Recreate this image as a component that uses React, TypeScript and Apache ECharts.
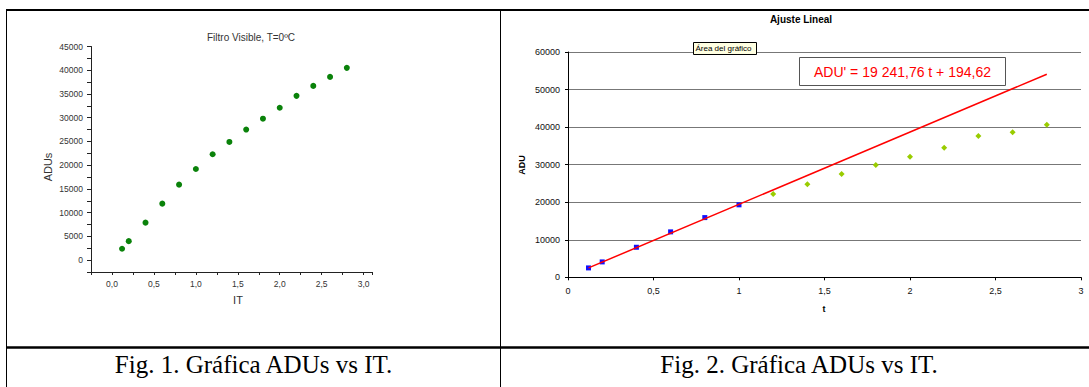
import React, { useEffect, useRef } from "react";
import * as echarts from "echarts";

// Fig. 1 (Origin plot) data
const itValues = [0.12, 0.2, 0.4, 0.6, 0.8, 1.0, 1.2, 1.4, 1.6, 1.8, 2.0, 2.2, 2.4, 2.6, 2.8];
const aduFig1 = [2400, 4000, 7900, 11900, 15900, 19200, 22300, 24900, 27500, 29800, 32100, 34600, 36700, 38600, 40500];

// Fig. 2 (Excel plot) data: first six points were used in the fit
const fitT = [0.12, 0.2, 0.4, 0.6, 0.8, 1.0];
const fitADU = [2500, 4100, 8000, 12100, 15900, 19300];
const restT = [1.2, 1.4, 1.6, 1.8, 2.0, 2.2, 2.4, 2.6, 2.8];
const restADU = [22200, 24800, 27500, 29900, 32100, 34500, 37600, 38600, 40600];

// Linear fit shown in the label
const fitSlope = 19241.76;
const fitIntercept = 194.62;
const trendT = [0.12, 2.8];

const fig1Title = "Filtro Visible, T=0ºC";
const fig2Title = "Ajuste Lineal";
const fitLabel = "ADU' = 19 241,76 t + 194,62";
const caption1 = "Fig. 1. Gráfica ADUs vs IT.";
const caption2 = "Fig. 2. Gráfica ADUs vs IT.";

const SANS = '"Liberation Sans", Arial, sans-serif';
const SERIF = '"Liberation Serif", "Times New Roman", serif';

export default function App() {
  const ref = useRef<HTMLDivElement>(null);

  useEffect(() => {
    if (!ref.current) return;
    const chart = echarts.init(ref.current, undefined, { renderer: "svg" });

    const fig1Data = itValues.map((t, i) => [t, aduFig1[i]]);
    const fitData = fitT.map((t, i) => [t, fitADU[i]]);
    const restData = restT.map((t, i) => [t, restADU[i]]);
    const trendData = trendT.map((t) => [t, fitSlope * t + fitIntercept]);

    const originLabel = { color: "#333", fontSize: 8.5, fontFamily: SANS };
    const excelLabel = { color: "#111", fontSize: 9, fontFamily: SANS };

    chart.setOption({
      animation: false,
      backgroundColor: "#fff",
      grid: [
        { left: 91, top: 46.5, width: 281, height: 225.5, outerBoundsMode: "none" },
        { left: 568, top: 52, width: 513, height: 225.3, outerBoundsMode: "none" },
      ],
      xAxis: [
        {
          type: "value",
          gridIndex: 0,
          min: -0.25,
          max: 3.1,
          interval: 0.25,
          axisLine: { onZero: false, lineStyle: { color: "#222", width: 1 } },
          axisTick: { show: true, inside: false, length: 3, lineStyle: { color: "#222" } },
          splitLine: { show: false },
          axisLabel: {
            ...originLabel,
            margin: 7,
            formatter: (v: number) => {
              const r = Math.round(v * 100) / 100;
              if (r < 0 || Math.abs(r * 2 - Math.round(r * 2)) > 1e-6) return "";
              return r.toFixed(1).replace(".", ",");
            },
          },
        },
        {
          type: "value",
          gridIndex: 1,
          min: 0,
          max: 3,
          interval: 0.5,
          axisLine: { onZero: false, lineStyle: { color: "#000", width: 1 } },
          axisTick: { show: true, inside: false, length: 3, lineStyle: { color: "#000" } },
          splitLine: { show: false },
          axisLabel: {
            ...excelLabel,
            margin: 9,
            formatter: (v: number) => String(v).replace(".", ","),
          },
        },
      ],
      yAxis: [
        {
          type: "value",
          gridIndex: 0,
          min: -2500,
          max: 45000,
          interval: 2500,
          axisLine: { show: true, onZero: false, lineStyle: { color: "#222", width: 1 } },
          axisTick: { show: true, inside: false, length: 4, lineStyle: { color: "#222" } },
          splitLine: { show: false },
          axisLabel: {
            ...originLabel,
            margin: 8,
            formatter: (v: number) => (v < 0 || v % 5000 !== 0 ? "" : String(v)),
          },
        },
        {
          type: "value",
          gridIndex: 1,
          min: 0,
          max: 60000,
          interval: 10000,
          axisLine: { show: true, onZero: false, lineStyle: { color: "#000", width: 1 } },
          axisTick: { show: true, inside: false, length: 3, lineStyle: { color: "#000" } },
          splitLine: { show: true, lineStyle: { color: "#777", width: 1 } },
          axisLabel: { ...excelLabel, margin: 8, formatter: (v: number) => String(v) },
        },
      ],
      series: [
        {
          type: "scatter",
          xAxisIndex: 0,
          yAxisIndex: 0,
          data: fig1Data,
          symbol: "circle",
          symbolSize: 6,
          itemStyle: { color: "#0a820a", opacity: 1 },
        },
        {
          type: "line",
          xAxisIndex: 1,
          yAxisIndex: 1,
          data: trendData,
          showSymbol: false,
          lineStyle: { color: "#ff0000", width: 1.5 },
          z: 3,
        },
        {
          type: "scatter",
          xAxisIndex: 1,
          yAxisIndex: 1,
          data: fitData,
          symbol: "rect",
          symbolSize: 5,
          itemStyle: { color: "#1010ff", opacity: 1 },
          z: 2,
        },
        {
          type: "scatter",
          xAxisIndex: 1,
          yAxisIndex: 1,
          data: restData,
          symbol: "diamond",
          symbolSize: 6,
          itemStyle: { color: "#99cc00", opacity: 1 },
          z: 2,
        },
      ],
      graphic: [
        // table borders
        { type: "line", z: 100, shape: { x1: 6, y1: 10, x2: 1089, y2: 10 }, style: { stroke: "#000", lineWidth: 2 } },
        { type: "line", z: 100, shape: { x1: 6.5, y1: 9, x2: 6.5, y2: 387 }, style: { stroke: "#000", lineWidth: 1 } },
        { type: "line", z: 100, shape: { x1: 500.5, y1: 9, x2: 500.5, y2: 387 }, style: { stroke: "#000", lineWidth: 1 } },
        { type: "line", z: 100, shape: { x1: 6, y1: 347.5, x2: 1089, y2: 347.5 }, style: { stroke: "#000", lineWidth: 2.5 } },
        // captions
        {
          type: "text",
          z: 100,
          x: 253.5,
          y: 364,
          style: { text: caption1, fill: "#000", font: `25px ${SERIF}`, align: "center", verticalAlign: "middle" },
        },
        {
          type: "text",
          z: 100,
          x: 799,
          y: 364,
          style: { text: caption2, fill: "#000", font: `25px ${SERIF}`, align: "center", verticalAlign: "middle" },
        },
        // Fig. 1 texts
        {
          type: "text",
          z: 100,
          x: 251,
          y: 37.5,
          style: { text: fig1Title, fill: "#333", font: `10px ${SANS}`, align: "center", verticalAlign: "middle" },
        },
        {
          type: "text",
          z: 100,
          x: 48,
          y: 167,
          rotation: Math.PI / 2,
          style: { text: "ADUs", fill: "#333", font: `11px ${SANS}`, align: "center", verticalAlign: "middle" },
        },
        {
          type: "text",
          z: 100,
          x: 238,
          y: 300,
          style: { text: "IT", fill: "#333", font: `11px ${SANS}`, align: "center", verticalAlign: "middle" },
        },
        // Fig. 2 texts
        {
          type: "text",
          z: 100,
          x: 801,
          y: 19,
          style: { text: fig2Title, fill: "#000", font: `bold 10px ${SANS}`, align: "center", verticalAlign: "middle" },
        },
        {
          type: "text",
          z: 100,
          x: 522,
          y: 165,
          rotation: Math.PI / 2,
          style: { text: "ADU", fill: "#000", font: `bold 9px ${SANS}`, align: "center", verticalAlign: "middle" },
        },
        {
          type: "text",
          z: 100,
          x: 824,
          y: 309,
          style: { text: "t", fill: "#000", font: `bold 9px ${SANS}`, align: "center", verticalAlign: "middle" },
        },
        // fit label box
        {
          type: "rect",
          z: 100,
          shape: { x: 799.5, y: 57.5, width: 206, height: 28 },
          style: { fill: "#fff", stroke: "#555", lineWidth: 1 },
        },
        {
          type: "text",
          z: 101,
          x: 902.5,
          y: 71.5,
          style: { text: fitLabel, fill: "#ff0000", font: `14px ${SANS}`, align: "center", verticalAlign: "middle" },
        },
        // tooltip-like box
        {
          type: "rect",
          z: 100,
          shape: { x: 693.5, y: 42.5, width: 63, height: 12 },
          style: { fill: "#ffffe1", stroke: "#000", lineWidth: 1 },
        },
        {
          type: "text",
          z: 101,
          x: 695.5,
          y: 48.5,
          style: { text: "Área del gráfico", fill: "#000", font: `8px ${SANS}`, align: "left", verticalAlign: "middle" },
        },
      ],
    });

    return () => chart.dispose();
  }, []);

  return (
    <div
      ref={ref}
      style={{ position: "fixed", left: 0, top: 0, width: 1089, height: 387, background: "#fff" }}
    />
  );
}
